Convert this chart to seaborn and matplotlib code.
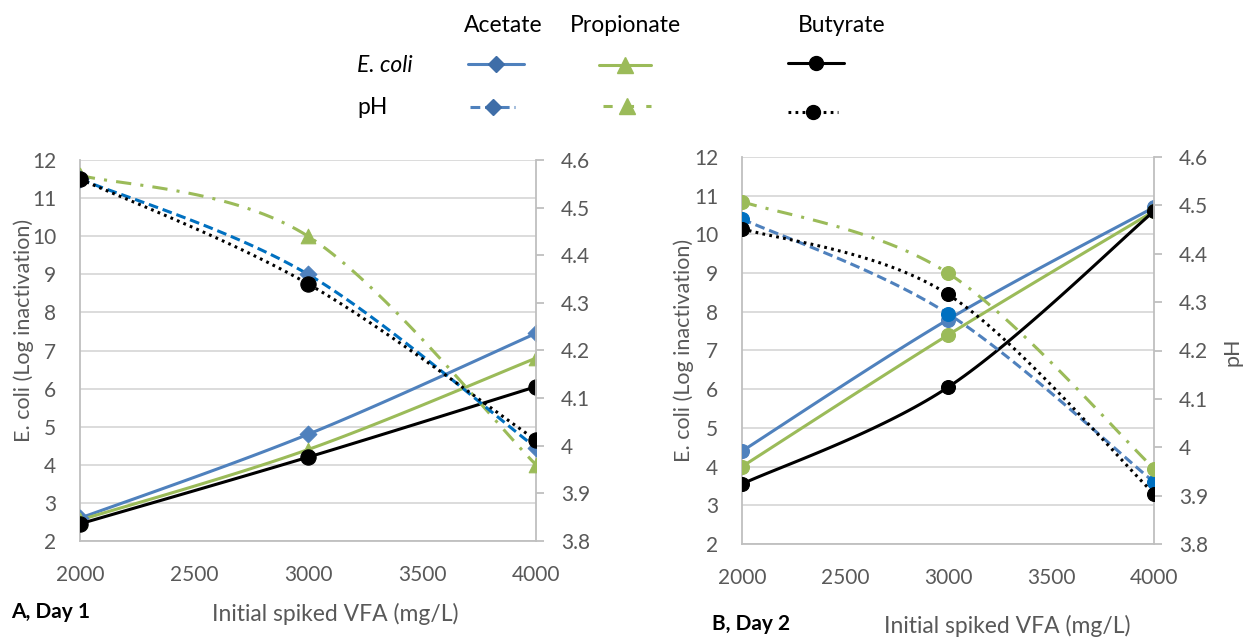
import numpy as np
import pandas as pd
import matplotlib
matplotlib.use("Agg")
import matplotlib.pyplot as plt
from matplotlib.lines import Line2D
import seaborn as sns

# ---------------- data ----------------
vfa = [2000, 3000, 4000]
series_names = ["Acetate", "Propionate", "Butyrate"]

# Day 1 (panel A)
a_ecoli_acetate = [2.6, 4.8, 7.45]
a_ecoli_propionate = [2.55, 4.4, 6.8]
a_ecoli_butyrate = [2.45, 4.2, 6.05]
a_ph_acetate = [4.56, 4.36, 3.996]
a_ph_propionate = [4.568, 4.44, 3.96]
a_ph_butyrate = [4.56, 4.34, 4.012]

# Day 2 (panel B)
b_ecoli_acetate = [4.4, 7.8, 10.7]
b_ecoli_propionate = [4.0, 7.4, 10.6]
b_ecoli_butyrate = [3.55, 6.05, 10.6]
b_ph_acetate = [4.472, 4.276, 3.928]
b_ph_propionate = [4.508, 4.36, 3.956]
b_ph_butyrate = [4.452, 4.316, 3.904]

left_ticks = list(range(2, 13))
right_ticks = [3.8, 3.9, 4.0, 4.1, 4.2, 4.3, 4.4, 4.5, 4.6]
right_ticklabels = ["3.8", "3.9", "4", "4.1", "4.2", "4.3", "4.4", "4.5", "4.6"]
x_ticks = [2000, 2500, 3000, 3500, 4000]

# ---------------- style ----------------
sns.set_theme(style="white")
plt.rcParams["font.family"] = ["Lato", "DejaVu Sans"]

BLUE = "#4F81BD"
BLUE2 = "#0070C0"
GREEN = "#9BBB59"
BLACK = "#000000"
GRAY_TXT = "#595959"
GRID = "#D9D9D9"
AXIS = "#BFBFBF"
FS = 15
LFS = 16.5

fig = plt.figure(figsize=(12.49, 6.43), dpi=100)
W, H = 1249, 643


def px_axes(l, t, r, b):
    return [l / W, 1 - b / H, (r - l) / W, (b - t) / H]


def smooth(xs, ys, n=40):
    pts = np.column_stack([np.asarray(xs, float), np.asarray(ys, float)])
    m = len(pts)
    out = []
    for i in range(m - 1):
        p0 = pts[max(i - 1, 0)]
        p1 = pts[i]
        p2 = pts[i + 1]
        p3 = pts[min(i + 2, m - 1)]
        c1 = p1 + (p2 - p0) / 6.0
        c2 = p2 - (p3 - p1) / 6.0
        t = np.linspace(0, 1, n)[:, None]
        seg = ((1 - t) ** 3) * p1 + 3 * ((1 - t) ** 2) * t * c1 + 3 * (1 - t) * t ** 2 * c2 + t ** 3 * p2
        out.append(seg if i == 0 else seg[1:])
    arr = np.vstack(out)
    return arr[:, 0], arr[:, 1]


def draw_series(ax, ys, color, lw, ls, marker, mcolor, ms, z):
    sx, sy = smooth(vfa, ys)
    sns.lineplot(x=sx, y=sy, ax=ax, color=color, linewidth=lw, linestyle=ls,
                 sort=False, estimator=None, zorder=z)
    sns.scatterplot(x=vfa, y=ys, ax=ax, marker=marker, color=mcolor, s=ms ** 2,
                    edgecolor=mcolor, linewidth=0.8, zorder=z + 0.5)


def setup(ax, ax2):
    ax.set_xlim(2000, 4000)
    ax.set_ylim(2, 12)
    ax2.set_ylim(3.8, 4.6)
    ax.set_xticks(x_ticks)
    ax.set_xticklabels([str(v) for v in x_ticks])
    ax.set_yticks(left_ticks)
    ax.set_yticklabels([str(v) for v in left_ticks])
    ax2.set_yticks(right_ticks)
    ax2.set_yticklabels(right_ticklabels)
    ax.grid(axis="y", color=GRID, linewidth=1.3)
    ax.grid(axis="x", visible=False)
    for a in (ax, ax2):
        for s in a.spines.values():
            s.set_visible(False)
    ax.spines["left"].set_visible(True)
    ax.spines["bottom"].set_visible(True)
    ax.spines["left"].set_color(AXIS)
    ax.spines["bottom"].set_color(AXIS)
    ax.spines["left"].set_linewidth(1.3)
    ax.spines["bottom"].set_linewidth(1.3)
    ax2.spines["right"].set_visible(True)
    ax2.spines["right"].set_color(AXIS)
    ax2.spines["right"].set_linewidth(1.3)
    ax.tick_params(axis="y", length=0, pad=17, labelsize=FS, labelcolor=GRAY_TXT)
    ax.tick_params(axis="x", length=0, pad=17, labelsize=FS, labelcolor=GRAY_TXT)
    ax2.tick_params(axis="y", length=6, width=1.3, color=AXIS, direction="out",
                    pad=12, labelsize=FS, labelcolor=GRAY_TXT, right=True, left=False)
    ax.set_xlabel("")
    ax.set_ylabel("")
    ax2.set_ylabel("")
    ax.set_facecolor("none")


# ---------------- panel A ----------------
axA = fig.add_axes(px_axes(80, 160, 536, 541))
axA2 = axA.twinx()
axA2.set_facecolor("none")

draw_series(axA, a_ecoli_acetate, BLUE, 2.2, "-", "D", BLUE, 8.5, 3)
draw_series(axA, a_ecoli_propionate, GREEN, 2.2, "-", "^", GREEN, 10.5, 3)
draw_series(axA, a_ecoli_butyrate, BLACK, 2.2, "-", "o", BLACK, 11, 4)
draw_series(axA2, a_ph_propionate, GREEN, 2.2, (0, (5, 3, 1, 3)), "^", GREEN, 10.5, 3)
draw_series(axA2, a_ph_acetate, BLUE2, 2.2, (0, (3.2, 1.6)), "D", BLUE, 8.5, 4)
draw_series(axA2, a_ph_butyrate, BLACK, 2.2, (0, (0.9, 1.4)), "o", BLACK, 11, 5)
setup(axA, axA2)

# ---------------- panel B ----------------
axB = fig.add_axes(px_axes(742, 157, 1154, 544))
axB2 = axB.twinx()
axB2.set_facecolor("none")

draw_series(axB, b_ecoli_acetate, BLUE, 2.2, "-", "o", BLUE, 10, 3)
draw_series(axB, b_ecoli_propionate, GREEN, 2.2, "-", "o", GREEN, 10, 3)
draw_series(axB, b_ecoli_butyrate, BLACK, 2.2, "-", "o", BLACK, 10, 4)
draw_series(axB2, b_ph_acetate, BLUE, 2.2, (0, (3.2, 1.6)), "o", BLUE2, 10, 3)
draw_series(axB2, b_ph_propionate, GREEN, 2.2, (0, (5, 3, 1, 3)), "o", GREEN, 10, 3)
draw_series(axB2, b_ph_butyrate, BLACK, 2.2, (0, (0.9, 1.4)), "o", BLACK, 10, 4)
setup(axB, axB2)


# ---------------- texts ----------------
def ftext(x, y, s, **kw):
    fig.text(x / W, 1 - y / H, s, **kw)


ftext(24, 330, "E. coli (Log inactivation)", rotation=90, ha="center", va="center",
      fontsize=15.5, color=GRAY_TXT)
ftext(684, 350, "E. coli (Log inactivation)", rotation=90, ha="center", va="center",
      fontsize=15.5, color=GRAY_TXT)
ftext(1232, 352, "pH", rotation=90, ha="center", va="center", fontsize=15.5, color=GRAY_TXT)
ftext(335, 614, "Initial spiked VFA (mg/L)", ha="center", va="center", fontsize=16.5, color=GRAY_TXT)
ftext(1007, 626, "Initial spiked VFA (mg/L)", ha="center", va="center", fontsize=16.5, color=GRAY_TXT)
ftext(11, 612, "A, Day 1", ha="left", va="center", fontsize=15, fontweight="bold", color="black")
ftext(712, 624, "B, Day 2", ha="left", va="center", fontsize=15, fontweight="bold", color="black")

# ---------------- legend ----------------
ftext(503, 25, series_names[0], ha="center", va="center", fontsize=LFS, color="black")
ftext(625, 25, series_names[1], ha="center", va="center", fontsize=LFS, color="black")
ftext(842, 25, series_names[2], ha="center", va="center", fontsize=LFS, color="black")
ftext(357, 65, "E. coli", ha="left", va="center", fontsize=LFS, style="italic", color="black")
ftext(357, 107, "pH", ha="left", va="center", fontsize=LFS, color="black")


def leg_line(x0, x1, y, color, ls, marker, mcolor, ms):
    fig.add_artist(Line2D([x0 / W, x1 / W], [1 - y / H, 1 - y / H], transform=fig.transFigure,
                          color=color, linewidth=2.2, linestyle=ls))
    xm = (x0 + x1) / 2
    fig.add_artist(Line2D([xm / W], [1 - y / H], transform=fig.transFigure, linestyle="none",
                          marker=marker, markersize=ms, color=mcolor))


leg_line(468, 524, 64, BLUE, "-", "D", "#3F6EA8", 8.5)
leg_line(599, 651, 65, GREEN, "-", "^", GREEN, 11)
leg_line(788, 844, 63, BLACK, "-", "o", BLACK, 10)
leg_line(470, 515, 107, BLUE, (0, (3.2, 1.6)), "D", "#3F6EA8", 8.5)
leg_line(603, 651, 106, GREEN, (0, (3, 4)), "^", GREEN, 11)
leg_line(788, 838, 112, BLACK, (0, (0.9, 1.4)), "o", BLACK, 10)

fig.savefig("out.png", dpi=100)
